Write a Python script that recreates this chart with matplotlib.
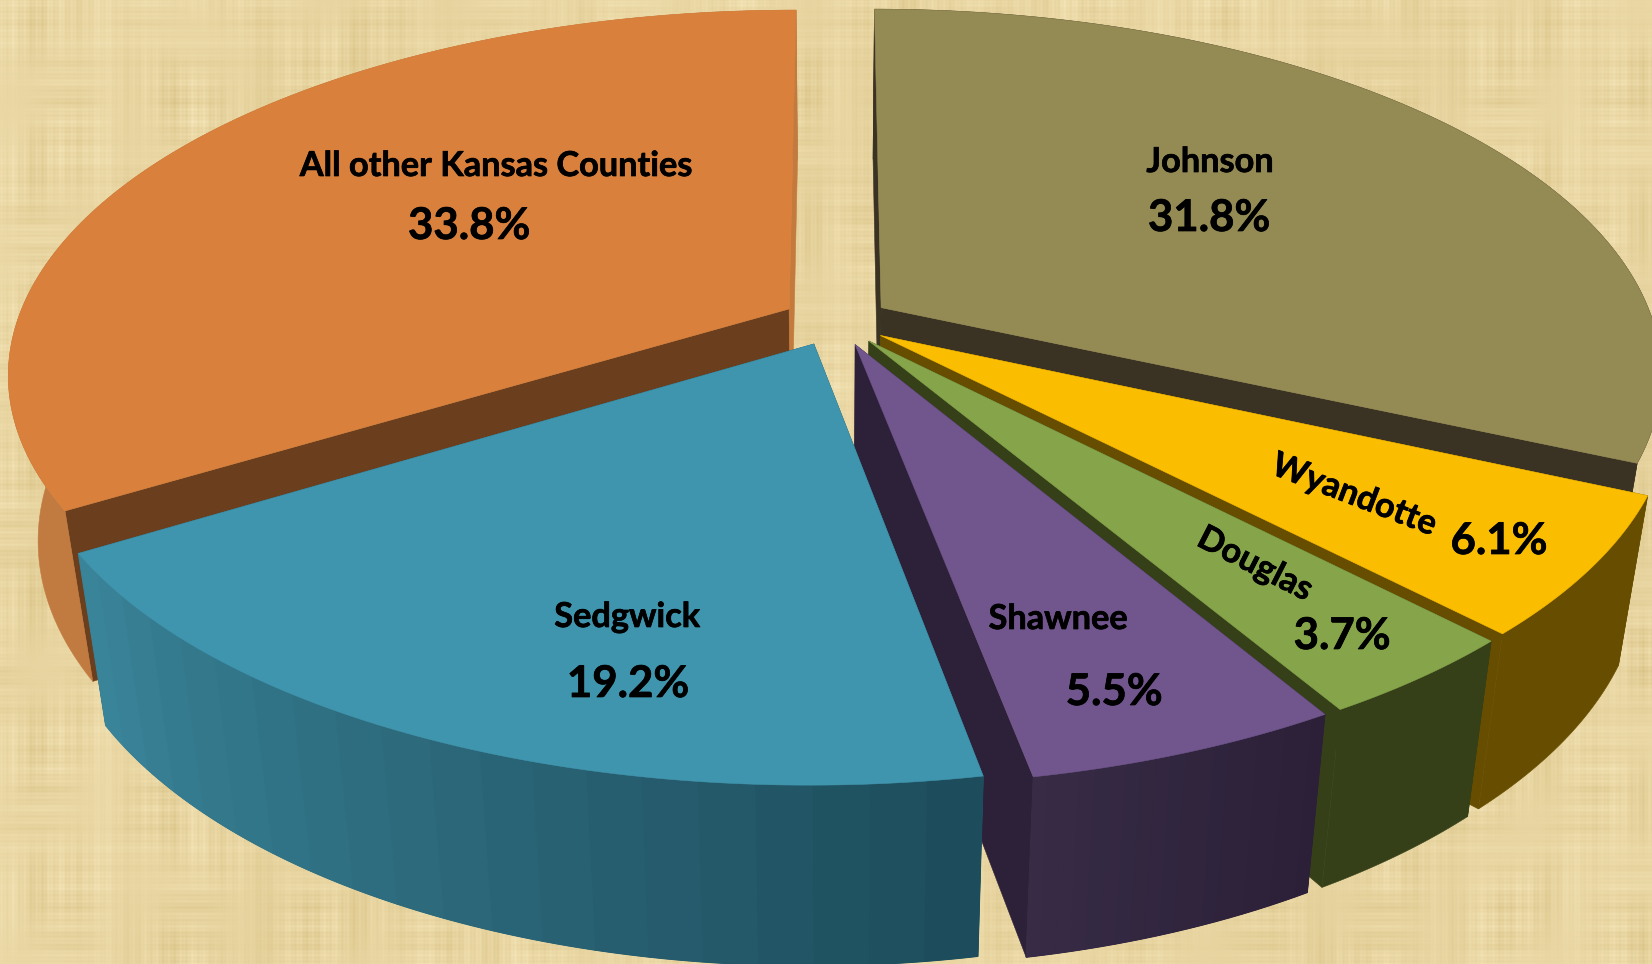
import numpy as np
import matplotlib
matplotlib.use("Agg")
import matplotlib.pyplot as plt
import matplotlib.patheffects as pe
from matplotlib.colors import to_rgb
from matplotlib.patches import Polygon

# ---- data (clockwise from 12 o'clock)
counties = ["Johnson", "Wyandotte", "Douglas", "Shawnee", "Sedgwick", "All other Kansas Counties"]
shares = [31.8, 6.1, 3.7, 5.5, 19.2, 33.8]
pct_labels = ["31.8%", "6.1%", "3.7%", "5.5%", "19.2%", "33.8%"]

top_colors = ["#948a54", "#fbbd00", "#86a44a", "#71558d", "#4095ae", "#d8803c"]
cut_start = ["#3a3222", "#664d00", "#354019", "#2d2139", "#1f4d5b", "#6b3f1e"]
cut_end = ["#3a3222", "#664d00", "#354019", "#2d2139", "#1f4d5b", "#c47a3c"]
# wall colour at the start and end of each slice's arc (clockwise)
wall_start = ["#3a3222", "#664d00", "#354019", "#2b2038", "#1d4d5c", "#c17a3f"]
wall_end = ["#3a3222", "#664d00", "#354019", "#372b45", "#3a8499", "#c17a3f"]

# back to front
draw_order = [0, 5, 1, 2, 3, 4]

# ---- projection of the tilted pie, in pixels of the 1652x964 image
CX, CY = 836, 321
RX, RY = 772, 355
PERSP = 0.175
DEPTH = 163
SQUEEZE = 0.036
EXPLODE = 0.07


def project(x, y, z=0.0):
    x, y = np.asarray(x, float), np.asarray(y, float)
    w = 1 + PERSP * y
    sx = RX * x / w
    sy = CY - RY * y / w + z * DEPTH / np.sqrt(w)
    return CX + sx * (1 - SQUEEZE * z), sy


def background(w, h):
    # woven paper look: fine threads broken up by slow patches
    xx = np.arange(w)[None, :]
    yy = np.arange(h)[:, None]
    patch_a = 0.5 + 0.5 * np.sin(yy / 23.0 + 1.3 * np.sin(xx / 61.0)) * np.sin(xx / 47.0 + 0.7)
    patch_b = 0.5 + 0.5 * np.sin(xx / 19.0 + 1.1 * np.sin(yy / 67.0)) * np.sin(yy / 43.0 + 2.1)
    threads_x = np.sin(xx / 0.62) * 0.3 + np.sin(xx / 1.9 + 1) * 0.4 + np.sin(xx / 7.3) * 0.45 + np.sin(xx / 17.0 + 2) * 0.3
    threads_y = np.sin(yy / 0.66) * 0.3 + np.sin(yy / 2.1) * 0.35 + np.sin(yy / 6.1 + 1) * 0.35 + np.sin(yy / 19.0) * 0.2
    tex = threads_x * patch_a + threads_y * patch_b + 0.2 * np.sin(xx / 83.0 + yy / 120.0)
    tex = (tex - tex.mean()) / np.abs(tex - tex.mean()).max()
    base = np.array(to_rgb("#e8d5a1"))
    img = base[None, None, :] + tex[:, :, None] * np.array([0.06, 0.075, 0.11])
    return np.clip(img, 0, 1)


fig = plt.figure(figsize=(16.52, 9.64), dpi=100)
ax = fig.add_axes([0, 0, 1, 1])
ax.imshow(background(1652, 964), extent=(0, 1652, 964, 0), zorder=0, interpolation="bilinear")
ax.set_xlim(0, 1652)
ax.set_ylim(964, 0)
ax.axis("off")

total = sum(shares)
edges = np.concatenate([[0], np.cumsum(shares)]) / total * 2 * np.pi


def add_poly(sx, sy, color, z, lw=0.4):
    ax.add_patch(Polygon(np.column_stack([sx, sy]), closed=True, facecolor=color,
                         edgecolor=color, linewidth=lw, zorder=z))


zorder = 1
for i in draw_order:
    a0, a1 = edges[i], edges[i + 1]
    mid = (a0 + a1) / 2
    ox, oy = EXPLODE * np.sin(mid), EXPLODE * np.cos(mid)
    t = np.linspace(a0, a1, 160)
    ex, ey = ox + np.sin(t), oy + np.cos(t)

    # the two cut faces
    for a, col in ((a0, cut_start[i]), (a1, cut_end[i])):
        px = np.array([ox, ox + np.sin(a)])
        py = np.array([oy, oy + np.cos(a)])
        tx, ty = project(px, py, 0)
        bx, by = project(px, py, 1)
        add_poly(np.r_[tx, bx[::-1]], np.r_[ty, by[::-1]], col, zorder)
    zorder += 1

    # outer wall, in bands when it is shaded
    c0, c1 = np.array(to_rgb(wall_start[i])), np.array(to_rgb(wall_end[i]))
    tx, ty = project(ex, ey, 0)
    bx, by = project(ex, ey, 1)
    add_poly(np.r_[tx, bx[::-1]], np.r_[ty, by[::-1]], tuple((c0 + c1) / 2), zorder)
    if wall_start[i] != wall_end[i]:
        cuts = np.r_[np.arange(0, len(t) - 1, 8), len(t) - 1]
        for k, j in enumerate(cuts[:-1]):
            j2 = cuts[k + 1] + 1
            col = c0 + (c1 - c0) * k / (len(cuts) - 2)
            add_poly(np.r_[tx[j:j2], bx[j:j2][::-1]], np.r_[ty[j:j2], by[j:j2][::-1]],
                     tuple(col), zorder, lw=0.8)
    zorder += 1

    # top face
    sx, sy = project(np.r_[ox, ex], np.r_[oy, ey], 0)
    add_poly(sx, sy, top_colors[i], zorder)
    zorder += 1

# ---- labels
label_xy = [(1210, 162), (1354, 495), (1255, 564), (1058, 619), (627, 617), (496, 166)]
label_rot = [0, -21, -27, 0, 0, 0]
pct_xy = [(1209, 218), (1499, 541), (1342, 636), (1114, 692), (628, 684), (469, 226)]
thick = [pe.withStroke(linewidth=0.5, foreground="black")]

for name, xy, rot in zip(counties, label_xy, label_rot):
    ax.text(xy[0], xy[1], name, ha="center", va="center", rotation=rot, rotation_mode="anchor",
            fontsize=24.7, fontweight="bold", family="Lato", color="black", zorder=100,
            path_effects=thick)
for pct, xy in zip(pct_labels, pct_xy):
    ax.text(xy[0], xy[1], pct, ha="center", va="center",
            fontsize=31.5, fontweight="bold", family="Lato", color="black", zorder=100,
            path_effects=thick)

fig.savefig("out.png", dpi=100)
